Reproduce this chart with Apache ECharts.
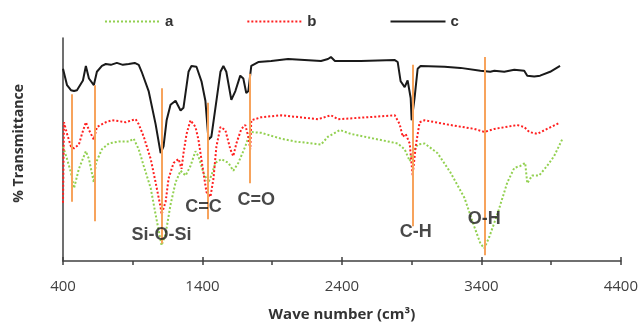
<!DOCTYPE html>
<html>
<head>
<meta charset="utf-8">
<script src="https://cdn.jsdelivr.net/npm/echarts@6/dist/echarts.min.js"></script>
<style>
html,body{margin:0;padding:0;background:#fff;}
#chart{width:641px;height:327px;}
</style>
</head>
<body>
<div id="chart"></div>
<script>
// Series a (green dotted)
const aWave = [400,429,457,479,514,564,586,621,636,679,729,800,871,907,943,979,1029,1064,1100,1107,1136,1171,1207,1243,1279,1314,1350,1371,1407,1443,1464,1493,1536,1586,1621,1657,1707,1743,1821,1964,2064,2250,2300,2386,2464,2800,2850,2886,2907,2943,2993,3086,3179,3279,3350,3393,3421,3457,3514,3586,3636,3679,3714,3729,3764,3814,3871,3921,3979];
const aT = [52.9,47.1,40.8,33.6,42.6,50.7,47.1,36.3,45.3,51.6,54.3,55.2,55.2,56.5,51.6,43.9,33.6,21.5,9.4,7.2,12.6,26.0,36.3,41.7,39.5,43.9,50.7,48.4,40.8,36.3,39.5,45.3,47.1,45.3,41.7,45.3,52.9,59.6,59.2,56.5,55.2,53.8,57.4,60.5,58.7,54.3,51.6,46.2,49.8,53.8,54.3,49.8,40.8,29.1,15.7,8.1,5.8,11.2,21.5,36.3,43.0,43.9,45.3,35.9,39.5,39.5,43.9,48.4,56.1];

// Series b (red dotted)
const bWave = [400,407,429,457,479,514,536,564,586,621,643,707,750,800,850,893,921,943,979,1029,1064,1100,1107,1136,1157,1193,1229,1250,1264,1286,1314,1350,1371,1407,1429,1457,1479,1500,1529,1564,1600,1621,1643,1679,1707,1729,1743,1750,1821,1964,2229,2321,2371,2586,2779,2814,2836,2857,2886,2907,2929,2957,2993,3179,3350,3421,3493,3657,3707,3743,3800,3871,3957];
const bT = [26.9,64.1,58.7,52.9,52.0,53.8,58.7,64.1,60.5,56.1,61.9,64.1,65.0,64.6,64.1,65.0,65.5,63.2,57.4,47.1,36.3,24.7,21.5,27.4,38.1,45.3,47.1,42.6,49.8,58.7,65.0,61.9,56.1,40.8,31.8,29.6,38.1,52.9,61.9,60.5,51.6,48.4,54.3,61.0,62.8,57.4,51.6,65.0,66.4,67.3,65.5,67.3,65.5,66.4,67.3,63.2,57.4,58.7,54.3,39.5,52.9,64.1,65.0,62.8,61.0,59.6,61.0,62.8,61.9,59.6,58.7,61.0,63.7];

// Series c (black solid)
const cWave = [400,429,457,479,500,543,564,586,621,643,679,707,743,786,829,871,914,943,964,1014,1064,1100,1121,1143,1171,1207,1243,1264,1300,1321,1357,1393,1421,1443,1464,1500,1529,1550,1571,1607,1636,1671,1693,1714,1729,1750,1800,1893,2014,2250,2300,2321,2350,2536,2779,2800,2821,2850,2871,2893,2900,2921,2943,2964,3136,3250,3393,3464,3493,3564,3636,3707,3729,3779,3821,3893,3964];
const cT = [88.8,81.2,78.9,78.5,78.9,83.4,90.1,84.3,81.2,87.4,90.1,91.0,90.6,91.5,90.6,91.0,91.5,90.6,87.4,78.5,63.2,49.8,52.9,65.0,72.2,74.0,69.5,70.8,87.4,90.1,89.7,83.0,74.0,56.1,57.4,74.0,87.4,90.1,87.4,74.4,78.5,85.6,84.3,77.6,78.5,90.1,91.9,92.4,93.3,92.4,93.3,94.2,92.4,92.4,92.8,91.9,83.0,80.3,83.4,75.3,65.0,75.3,88.8,90.1,89.7,89.2,87.9,87.4,87.9,87.4,88.3,87.9,85.6,85.2,85.6,87.4,90.1];

// Band marker lines: wavenumber, top and bottom transmittance
const bandWave = [464,629,1107,1436,1736,2907,3421];
const bandTop = [77,81.2,79.8,73.1,86.5,90.6,94.2];
const bandBottom = [27.4,18.4,8.1,19.3,35.9,16.1,2.7];

// Band annotations
const labelText = ['Si-O-Si','C=C','C=O','C-H','O-H'];
const labelWave = [1107,1407,1786,2929,3421];
const labelT = [12.1,24.7,28.3,13.5,19.3];

const xTicks = [400,1400,2400,3400,4400];

const zip = (w, t) => w.map((x, i) => [x, t[i]]);

const chart = echarts.init(document.getElementById('chart'));
chart.setOption({
  animation: false,
  backgroundColor: '#fff',
  grid: {left: 63, right: 17, top: 38, bottom: 59, containLabel: false},
  legend: {
    show: true,
    data: ['a', 'b', 'c'],
    left: 104, top: 14, padding: 0,
    itemWidth: 55, itemHeight: 14, itemGap: 73,
    itemStyle: {opacity: 0},
    textStyle: {fontFamily: 'Liberation Sans', fontWeight: 'bold', fontSize: 15, color: '#333'}
  },
  xAxis: [{
    type: 'value', min: 400, max: 4400, interval: 1000,
    axisLine: {show: true, lineStyle: {color: '#404040', width: 1.5}},
    axisTick: {show: true, length: 4, lineStyle: {color: '#404040', width: 1.5}},
    minorTick: {show: true, splitNumber: 2, length: 4, lineStyle: {color: '#404040', width: 1.5}},
    axisLabel: {
      color: '#404040', fontSize: 15, fontFamily: 'Open Sans', margin: 18,
      formatter: v => xTicks.includes(v) ? String(v) : ''
    },
    splitLine: {show: false},
    name: 'Wave number (cm³)', nameLocation: 'middle', nameGap: 46,
    nameTextStyle: {fontSize: 15, fontWeight: 'bold', color: '#333', fontFamily: 'Open Sans'}
  }, {
    type: 'value', min: 400, max: 4400, interval: 1000, position: 'bottom',
    axisLine: {show: false},
    axisTick: {show: true, inside: true, length: 4, lineStyle: {color: '#404040', width: 1.5}},
    minorTick: {show: false},
    axisLabel: {show: false},
    splitLine: {show: false}
  }],
  yAxis: {
    type: 'value', min: 0, max: 103,
    axisLine: {show: true, lineStyle: {color: '#404040', width: 1.5}},
    axisTick: {show: false},
    axisLabel: {show: false},
    splitLine: {show: false}
  },
  graphic: [{
    type: 'text', left: 12, top: 84,
    rotation: Math.PI / 2,
    style: {text: '% Transmittance', fontSize: 14, fontWeight: 'bold', fill: '#333', fontFamily: 'Open Sans'}
  }],
  series: [
    {
      name: 'a', type: 'line', data: zip(aWave, aT), symbol: 'none', smooth: false,
      lineStyle: {color: '#92D050', width: 2, type: [2, 2]}, itemStyle: {color: '#92D050'}, z: 2
    },
    {
      name: 'b', type: 'line', data: zip(bWave, bT), symbol: 'none',
      lineStyle: {color: '#FF2020', width: 2, type: [2, 2]}, itemStyle: {color: '#FF2020'}, z: 3
    },
    {
      name: 'c', type: 'line', data: zip(cWave, cT), symbol: 'none',
      lineStyle: {color: '#1a1a1a', width: 2}, itemStyle: {color: '#1a1a1a'}, z: 4
    },
    {
      name: 'labels', type: 'scatter', z: 5, symbolSize: 1,
      itemStyle: {color: 'rgba(0,0,0,0)'},
      data: labelText.map((t, i) => ({name: t, value: [labelWave[i], labelT[i]]})),
      label: {
        show: true, position: 'inside', formatter: '{b}',
        fontSize: 18, fontWeight: 'bold', color: '#1a1a1a', fontFamily: 'Liberation Sans'
      }
    },
    {
      name: 'bands', type: 'line', data: [], z: 6,
      markLine: {
        silent: true, symbol: ['none', 'none'], label: {show: false},
        lineStyle: {color: '#F7A35C', width: 2, type: 'solid'},
        data: bandWave.map((w, i) => [{coord: [w, bandTop[i]]}, {coord: [w, bandBottom[i]]}])
      }
    }
  ]
});
</script>
</body>
</html>
